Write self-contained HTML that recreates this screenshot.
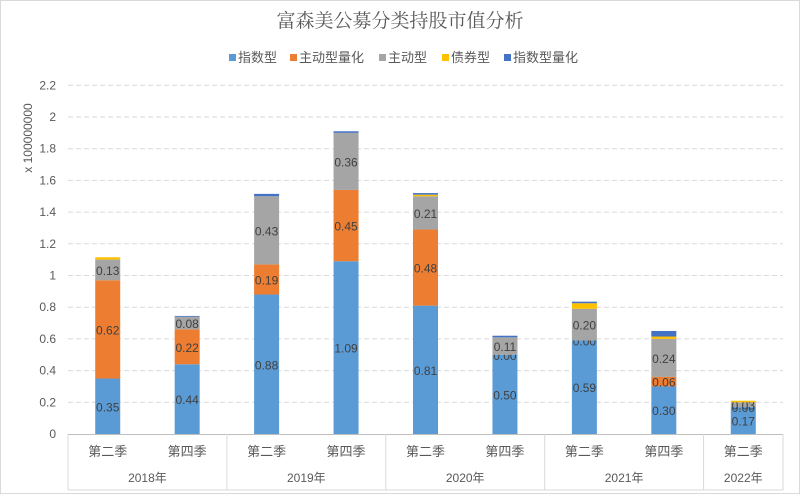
<!DOCTYPE html>
<html><head><meta charset="utf-8"><style>
body{margin:0;background:#fff}
svg{display:block;font-family:"Liberation Sans","Noto Sans CJK SC",sans-serif}
</style></head><body>
<svg id="c" width="800" height="494">
<rect x="0.5" y="0.5" width="799" height="493" fill="#fff" stroke="#d9d9d9"/>
<text x="400" y="27" text-anchor="middle" font-size="19" fill="#595959" font-family="'Noto Serif CJK SC',serif">富森美公募分类持股市值分析</text>
<g id="legend"></g>
<g id="grid"></g><g id="bars"></g><g id="axis"></g>
<text transform="translate(32,138) rotate(-90)" text-anchor="middle" font-size="12" fill="#595959">x 100000000</text>
</svg>
<script>
const quarters=["第二季","第四季","第二季","第四季","第二季","第四季","第二季","第四季","第二季"];
const years=["2018年","2019年","2020年","2021年","2022年"];
const yearSpans=[2,2,2,2,1];
const seriesNames=["指数型","主动型量化","主动型","债券型","指数型量化"];
const colors=["#5b9bd5","#ed7d31","#a5a5a5","#ffc000","#4472c4"];
const indexVals=[0.35,0.44,0.88,1.09,0.81,0.50,0.59,0.30,0.17];
const quantActiveVals=[0.62,0.22,0.19,0.45,0.48,0.00,0.00,0.06,0.00];
const activeVals=[0.13,0.08,0.43,0.36,0.21,0.11,0.20,0.24,0.03];
const bondVals=[0.015,0,0,0,0.01,0,0.035,0.015,0.01];
const indexQuantVals=[0,0.005,0.015,0.01,0.01,0.01,0.01,0.035,0];
const showZeroLabel=[false,false,false,false,false,true,true,false,true];
const yTicks=[0,0.2,0.4,0.6,0.8,1,1.2,1.4,1.6,1.8,2,2.2];
const NS="http://www.w3.org/2000/svg";
const L=68,R=783,Y0=434,K=158.5;
const y=v=>Y0-v*K;
const cw=(R-L)/quarters.length;
const x=i=>L+cw*(i+0.5);
function mk(t,a,p){const e=document.createElementNS(NS,t);for(const k in a)e.setAttribute(k,a[k]);(p||document.getElementById('c')).appendChild(e);return e;}
const grid=document.getElementById('grid'),bars=document.getElementById('bars'),axis=document.getElementById('axis');
yTicks.forEach(v=>{
 if(v>0){const g=mk('line',{x1:L,x2:R,y1:y(v),y2:y(v),stroke:'#d9d9d9','stroke-dasharray':'5,3'},grid);
 
 }
 const t=mk('text',{x:56,y:y(v)+4,'text-anchor':'end','font-size':12,fill:'#595959'},axis);t.textContent=String(v);
 
 
});
const series=[indexVals,quantActiveVals,activeVals,bondVals,indexQuantVals];
quarters.forEach((q,i)=>{
 let acc=0;
 series.forEach((s,j)=>{
  const v=s[i];
  if(v>0){const r=mk('rect',{x:x(i)-12.5,y:y(acc+v),width:25,height:v*K,fill:colors[j]},bars);
  
  }
  if(j<3&&(v>0||showZeroLabel[i])){
   const t=mk('text',{x:x(i),y:y(acc+v/2)+5,'text-anchor':'middle','font-size':12,fill:'#404040'},bars);
   t.textContent=v.toFixed(2);
   
   
  }
  acc+=v;
 });
 const t=mk('text',{x:x(i),y:456,'text-anchor':'middle','font-size':13,fill:'#595959'},axis);t.textContent=q;
 
 
});
mk('line',{x1:L,x2:R,y1:Y0+0.5,y2:Y0+0.5,stroke:'#bfbfbf'},axis);
let start=0;
mk('line',{x1:L,x2:L,y1:Y0,y2:490,stroke:'#d9d9d9'},axis);
years.forEach((yr,k)=>{
 const end=start+yearSpans[k];
 const xl=L+cw*start,xr=L+cw*end;
 mk('line',{x1:xr,x2:xr,y1:Y0,y2:490,stroke:'#d9d9d9'},axis);
 const t=mk('text',{x:(xl+xr)/2,y:482,'text-anchor':'middle','font-size':12,fill:'#595959'},axis);t.textContent=yr;
 
 
 start=end;
});
mk('line',{x1:L,x2:R,y1:490,y2:490,stroke:'#d9d9d9'},axis);
const leg=document.getElementById('legend');
const lx=[229,290,379,442,504];
seriesNames.forEach((n,j)=>{
 const g=mk('g',{},leg);
 
 
 mk('rect',{x:lx[j],y:54,width:7,height:7,fill:colors[j]},g);
 const t=mk('text',{x:lx[j]+9,y:62,'font-size':13,fill:'#595959'},g);t.textContent=n;
});
</script>
</body></html>
